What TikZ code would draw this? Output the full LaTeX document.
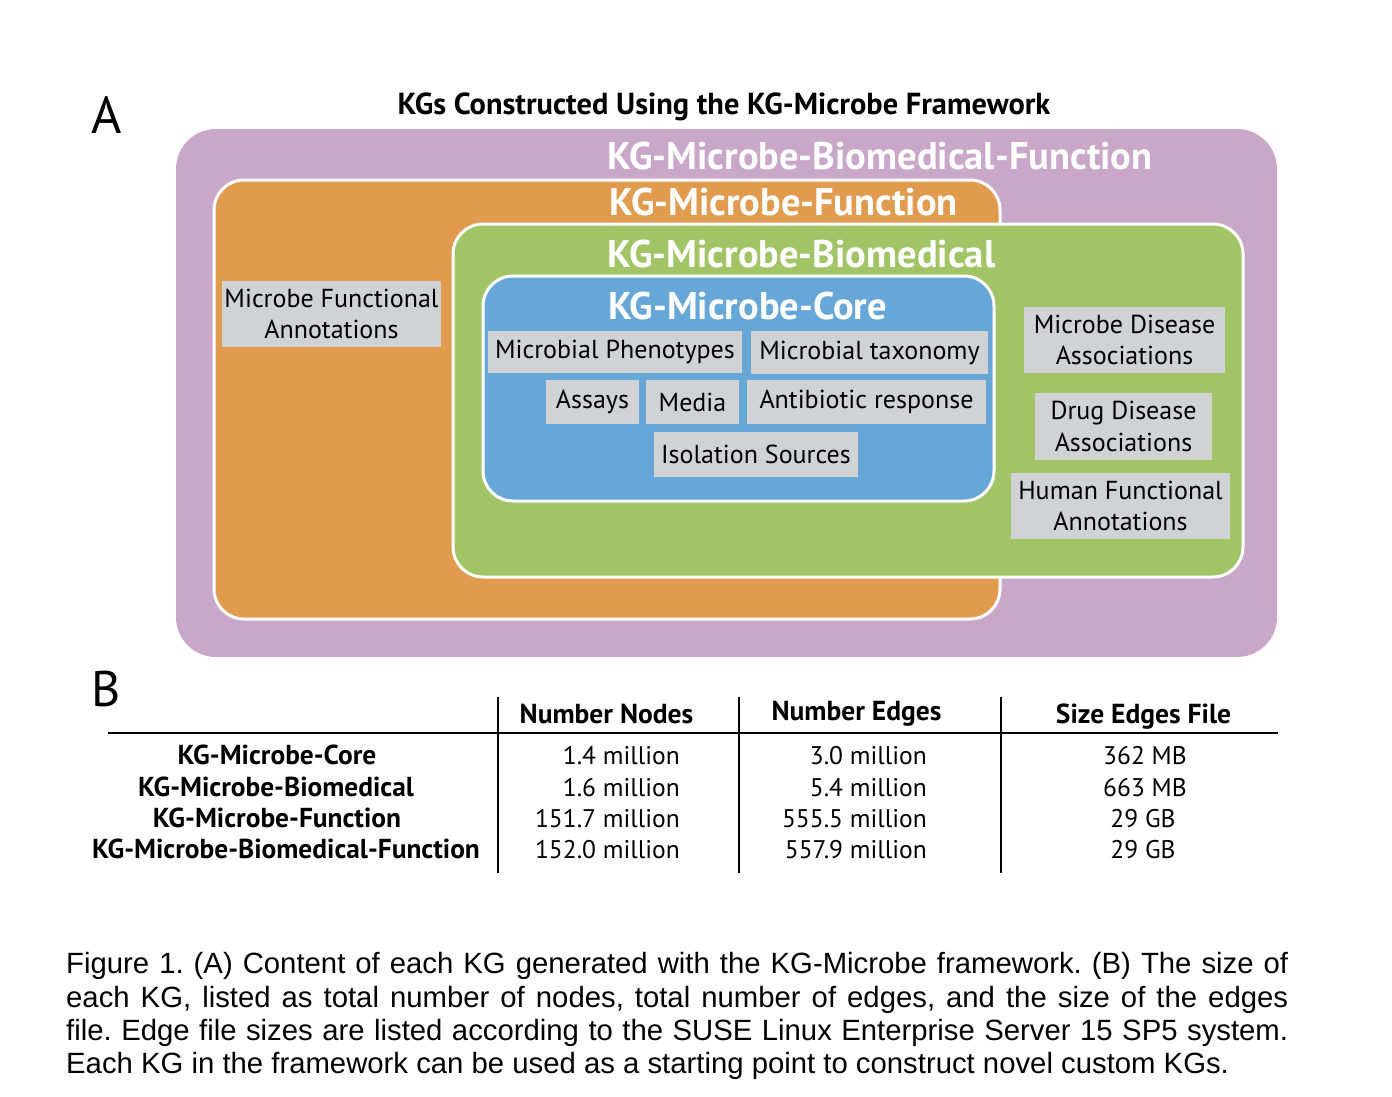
\documentclass[tikz,border=0pt]{standalone}
\usepackage{fontspec}
\setmainfont{PT Sans}
\newfontfamily\capfont{Liberation Sans}
\definecolor{kgpurple}{RGB}{201,167,200}
\definecolor{kgorange}{RGB}{224,155,79}
\definecolor{kggreen}{RGB}{161,196,102}
\definecolor{kgblue}{RGB}{103,167,216}
\definecolor{itemgray}{RGB}{209,210,212}
\begin{document}
\begin{tikzpicture}[x=1pt,y=-1pt,
  kgbox/.style={draw=white, line width=3pt, rounded corners=30pt, inner sep=0pt},
  kgtitle/.style={text=white, font=\bfseries\fontsize{38.5}{42}\selectfont, inner sep=0pt, anchor=base},
  item/.style={fill=itemgray, inner sep=0pt, align=center, font=\fontsize{26}{31.5}\selectfont},
  hdr/.style={font=\bfseries\fontsize{27.5}{30}\selectfont, inner sep=0pt, anchor=base},
  rowlab/.style={font=\bfseries\fontsize{27.4}{30}\selectfont, inner sep=0pt, anchor=base},
  val/.style={font=\fontsize{25.5}{30}\selectfont, inner sep=0pt, anchor=base east},
  valc/.style={font=\fontsize{25.5}{30}\selectfont, inner sep=0pt, anchor=base},
  capline/.style={font=\capfont\fontsize{29.3}{33}\selectfont\frenchspacing, inner sep=0pt, anchor=base west},
  rule/.style={line width=1.6pt, black}
]
\useasboundingbox[fill=white] (0,0) rectangle (1392,1096);

% Panel labels
\node[font=\fontsize{52}{56}\selectfont, inner sep=0pt, anchor=base west] (labA) at (91,133) {A};
\node[font=\fontsize{50}{54}\selectfont, inner sep=0pt, anchor=base west] (labB) at (91,706) {B};
\node[font=\bfseries\fontsize{30.4}{34}\selectfont, inner sep=0pt, anchor=base] (maintitle) at (724,114) {KGs Constructed Using the KG-Microbe Framework};

% Nested boxes
\node[fill=kgpurple, rounded corners=40pt, inner sep=0pt, minimum width=1101pt, minimum height=528pt] (bmf) at (726.5,393) {};
\node[kgbox, fill=kgorange, minimum width=786pt, minimum height=439pt] (fun) at (607,399.5) {};
\node[kgbox, fill=kggreen, minimum width=790pt, minimum height=353pt] (bio) at (848,400.5) {};
\node[kgbox, fill=kgblue, minimum width=511pt, minimum height=225pt] (core) at (738.5,388.5) {};

\node[kgtitle] (tbmf) at (880,169) {KG-Microbe-Biomedical-Function};
\node[kgtitle] (tfun) at (783.5,215) {KG-Microbe-Function};
\node[kgtitle] (tbio) at (801.5,267) {KG-Microbe-Biomedical};
\node[kgtitle] (tcore) at (747.5,319) {KG-Microbe-Core};

% Items
\node[item, minimum width=219pt, minimum height=66pt] (mfa) at (331.5,314) {Microbe Functional\\Annotations};
\node[item, minimum width=254pt, minimum height=42pt] (phen) at (615,352) {Microbial Phenotypes};
\node[item, minimum width=237pt, minimum height=43pt] (tax) at (869.5,352.5) {Microbial taxonomy};
\node[item, minimum width=93pt, minimum height=44pt] (assay) at (592.5,402) {Assays};
\node[item, minimum width=93pt, minimum height=44pt] (media) at (692.5,402) {Media};
\node[item, minimum width=239pt, minimum height=44pt] (anti) at (866.5,402) {Antibiotic response};
\node[item, minimum width=204pt, minimum height=45pt] (iso) at (756,454.5) {Isolation Sources};
\node[item, minimum width=201pt, minimum height=66pt] (mda) at (1124.5,340) {Microbe Disease\\Associations};
\node[item, minimum width=177pt, minimum height=67pt] (dda) at (1123.5,426.5) {Drug Disease\\Associations};
\node[item, minimum width=219pt, minimum height=66pt] (hfa) at (1120.5,506) {Human Functional\\Annotations};

% Table rules
\coordinate (hl1) at (108,733);
\coordinate (hl2) at (1278,733);
\coordinate (v1t) at (498,697); \coordinate (v1b) at (498,873);
\coordinate (v2t) at (739,697); \coordinate (v2b) at (739,873);
\coordinate (v3t) at (1001,697); \coordinate (v3b) at (1001,873);
\draw[rule] (hl1) -- (hl2);
\draw[rule] (v1t) -- (v1b);
\draw[rule] (v2t) -- (v2b);
\draw[rule] (v3t) -- (v3b);

% Table header
\node[hdr] (hN) at (606.5,723) {Number Nodes};
\node[hdr] (hE) at (856.5,720) {Number Edges};
\node[hdr] (hS) at (1143.5,723) {Size Edges File};

% Rows
\node[rowlab] (r1) at (277,764) {KG-Microbe-Core};
\node[rowlab] (r2) at (276,796) {KG-Microbe-Biomedical};
\node[rowlab] (r3) at (277,827) {KG-Microbe-Function};
\node[rowlab] (r4) at (286,858) {KG-Microbe-Biomedical-Function};

\node[val] (n1) at (680,764) {1.4 million};
\node[val] (n2) at (680,796) {1.6 million};
\node[val] (n3) at (680,827) {151.7 million};
\node[val] (n4) at (680,858) {152.0 million};

\node[val] (e1) at (927,764) {3.0 million};
\node[val] (e2) at (927,796) {5.4 million};
\node[val] (e3) at (927,827) {555.5 million};
\node[val] (e4) at (927,858) {557.9 million};

\node[valc] (s1) at (1145,764) {362 MB};
\node[valc] (s2) at (1145,796) {663 MB};
\node[valc] (s3) at (1143,827) {29 GB};
\node[valc] (s4) at (1143,858) {29 GB};

% Caption
\node[capline] (c1) at (66,973) {\makebox[1222pt][s]{Figure 1. (A) Content of each KG generated with the KG-Microbe framework. (B) The size of}};
\node[capline] (c2) at (66,1007) {\makebox[1222pt][s]{each KG, listed as total number of nodes, total number of edges, and the size of the edges}};
\node[capline] (c3) at (66,1040) {\makebox[1222pt][s]{file. Edge file sizes are listed according to the SUSE Linux Enterprise Server 15 SP5 system.}};
\node[capline] (c4) at (66,1073) {Each KG in the framework can be used as a starting point to construct novel custom KGs.};
\end{tikzpicture}
\end{document}
